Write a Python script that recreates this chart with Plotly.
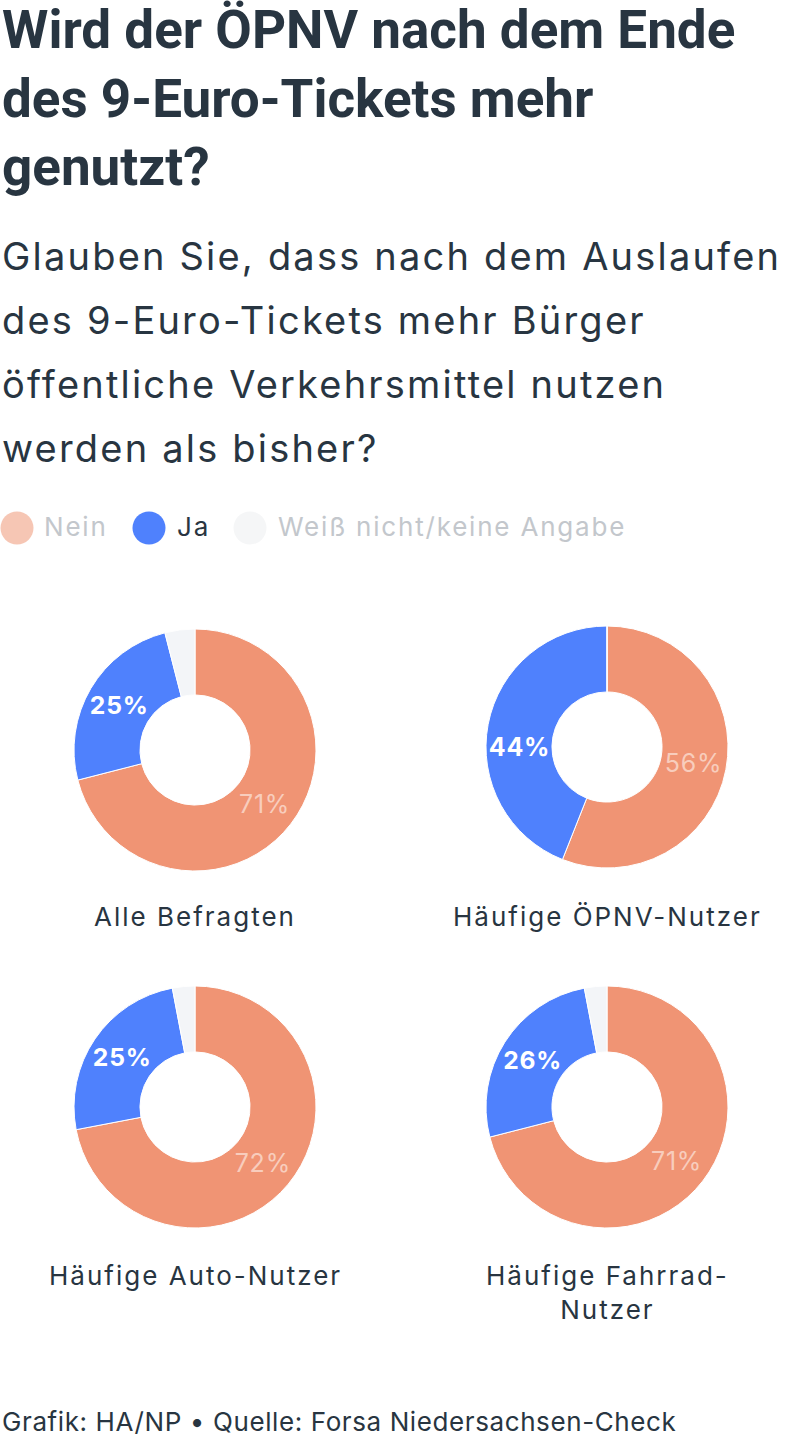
import plotly.graph_objects as go

W, H = 800, 1440

answers = ["Nein", "Ja", "Weiß nicht/keine Angabe"]
groups = ["Alle Befragten", "Häufige ÖPNV-Nutzer", "Häufige Auto-Nutzer", "Häufige Fahrrad-<br>Nutzer"]
nein = [71, 56, 72, 71]
ja = [25, 44, 25, 26]
weiss = [4, 0, 3, 3]

slice_colors = ["#f09474", "#4f81fd", "#f3f5f8"]
legend_colors = ["#f6c6b4", "#4f81fd", "#f5f6f7"]
legend_text_colors = ["#c3c7cc", "#2a3541", "#c3c7cc"]
dark = "#283541"

title_lines = ["Wird der ÖPNV nach dem Ende", "des 9-Euro-Tickets mehr", "genutzt?"]
subtitle_lines = ["Glauben Sie, dass nach dem Auslaufen", "des 9-Euro-Tickets mehr Bürger",
                  "öffentliche Verkehrsmittel nutzen", "werden als bisher?"]
footer = "Grafik: HA/NP • Quelle: Forsa Niedersachsen-Check"

# pie positions in pixels (center x, center y), radius
centers = [(195, 750), (607, 747), (195, 1107), (607, 1107)]
R = 121
label_y = [916, 916, 1275, 1275]


def px_x(x):
    return x / W


def px_y(y):
    return 1 - y / H


def ls(t, sp):
    return f'<span style="letter-spacing:{sp}px">{t}</span>'


fig = go.Figure()
for i in range(4):
    cx, cy = centers[i]
    vals = [nein[i], ja[i], weiss[i]]
    fig.add_trace(go.Pie(
        labels=answers, values=vals, hole=0.455, sort=False, direction="clockwise",
        rotation=0,
        marker=dict(colors=slice_colors, line=dict(color="white", width=1)),
        texttemplate=[ls("%{value}%", 0.8), ls("<b>%{value}%</b>", 0.8), ""],
        textposition="inside", insidetextorientation="horizontal",
        textfont=dict(family="Inter", size=25, color=["#f8cdbd", "white", "white"]),
        domain=dict(x=[px_x(cx - R), px_x(cx + R)], y=[px_y(cy + R), px_y(cy - R)]),
        showlegend=False, hoverinfo="label+percent",
    ))

ann = []
title_y = [30, 99, 167]
for t, y in zip(title_lines, title_y):
    ann.append(dict(text=f"<b>{t}</b>", x=0, y=px_y(y), xref="paper", yref="paper",
                    xanchor="left", yanchor="middle", showarrow=False,
                    font=dict(family="Roboto", size=53, color=dark)))
sub_y = [256, 320, 384, 448]
for t, y in zip(subtitle_lines, sub_y):
    ann.append(dict(text=ls(t, 2.2), x=0, y=px_y(y), xref="paper", yref="paper",
                    xanchor="left", yanchor="middle", showarrow=False,
                    font=dict(family="Inter", size=38, color=dark)))

# legend
leg_cx = [17, 149, 250]
leg_tx = [42, 175, 276]
shapes = []
for i in range(3):
    shapes.append(dict(type="circle", xref="paper", yref="paper",
                       x0=px_x(leg_cx[i] - 16.5), x1=px_x(leg_cx[i] + 16.5),
                       y0=px_y(528 + 16.5), y1=px_y(528 - 16.5),
                       fillcolor=legend_colors[i], line=dict(width=0)))
    ann.append(dict(text=ls(answers[i], 1.8), x=px_x(leg_tx[i]), y=px_y(527), xref="paper", yref="paper",
                    xanchor="left", yanchor="middle", showarrow=False,
                    font=dict(family="Inter", size=26, color=legend_text_colors[i])))

for i in range(4):
    ann.append(dict(text=ls(groups[i], 2), x=px_x(centers[i][0]), y=px_y(label_y[i] - 17), xref="paper", yref="paper",
                    xanchor="center", yanchor="top", showarrow=False, align="center",
                    font=dict(family="Inter", size=26, color=dark)))

ann.append(dict(text=ls(footer, 0.6), x=0, y=px_y(1421), xref="paper", yref="paper",
                xanchor="left", yanchor="middle", showarrow=False,
                font=dict(family="Inter", size=26, color=dark)))

fig.update_layout(width=W, height=H, margin=dict(l=0, r=0, t=0, b=0),
                  paper_bgcolor="white", plot_bgcolor="white",
                  annotations=ann, shapes=shapes)
fig.write_html("out.html", config={"displayModeBar": False},
               post_script="document.body.style.margin='0px';")
